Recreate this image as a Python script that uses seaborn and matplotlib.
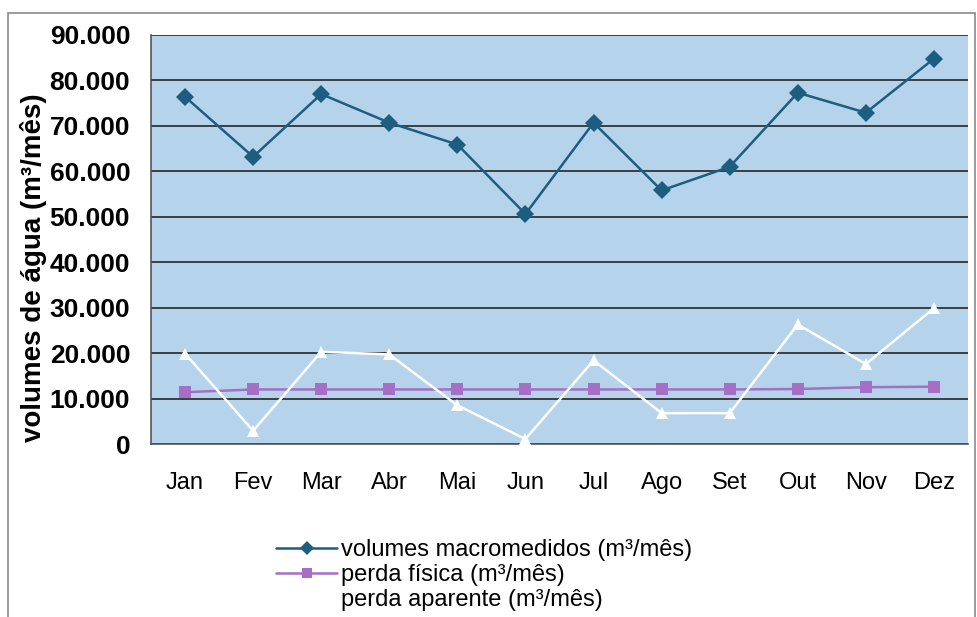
import pandas as pd
import matplotlib
matplotlib.use('Agg')
import matplotlib.pyplot as plt
import matplotlib.ticker as mticker
from matplotlib.patches import Rectangle
import seaborn as sns

# Monthly water volumes (m3/month)
meses = ['Jan', 'Fev', 'Mar', 'Abr', 'Mai', 'Jun', 'Jul', 'Ago', 'Set', 'Out', 'Nov', 'Dez']
volumes_macro = [76400, 63200, 77000, 70700, 65900, 50600, 70700, 55800, 61000, 77300, 72900, 84800]
perda_fisica = [11400, 12000, 12000, 12000, 12000, 12000, 12000, 12000, 12000, 12100, 12500, 12600]
perda_aparente = [19900, 2900, 20300, 19700, 8500, 1100, 18400, 6800, 6800, 26300, 17600, 29900]

nomes = ['volumes macromedidos (m³/mês)', 'perda física (m³/mês)', 'perda aparente (m³/mês)']

df = pd.DataFrame({
    'pos': list(range(len(meses))) * 3,
    'valor': volumes_macro + perda_fisica + perda_aparente,
    'serie': [nomes[0]] * 12 + [nomes[1]] * 12 + [nomes[2]] * 12,
})

sns.set_style('white')
plt.rcParams['font.family'] = ['Liberation Sans', 'DejaVu Sans']
plt.rcParams['text.color'] = 'black'
plt.rcParams['xtick.color'] = 'black'
plt.rcParams['ytick.color'] = 'black'
plt.rcParams['axes.labelcolor'] = 'black'

fig = plt.figure(figsize=(9.78, 6.17), dpi=100)
ax = fig.add_axes([151 / 978, 1 - 444 / 617, (968 - 151) / 978, (444 - 35) / 617])
ax.set_facecolor('#b6d3ec')

# outer chart frame
fig.patches.append(Rectangle((8 / 978, -0.01), (975 - 8) / 978, 1 - 13 / 617 + 0.01,
                             transform=fig.transFigure, fill=False,
                             edgecolor='#8a8a8a', linewidth=1.2))

cores = {nomes[0]: '#1d5e80', nomes[1]: '#a46fc4', nomes[2]: '#ffffff'}
marcadores = {nomes[0]: 'D', nomes[1]: 's', nomes[2]: '^'}
sns.lineplot(data=df, x='pos', y='valor', hue='serie', style='serie',
             palette=cores, markers=marcadores, dashes=False,
             markersize=9, linewidth=1.8, markeredgewidth=0, ax=ax, zorder=3)

ax.set_xlim(-0.5, 11.5)
ax.set_ylim(0, 90000)
ax.yaxis.set_major_locator(mticker.MultipleLocator(10000))
ax.yaxis.set_major_formatter(mticker.FuncFormatter(
    lambda v, p: f'{int(v):,}'.replace(',', '.')))
ax.grid(axis='y', color='#333333', linewidth=1.3)
ax.set_axisbelow(True)

ax.set_xticks(range(12))
ax.set_xticklabels(meses)
ax.set_xticks([i - 0.5 for i in range(13)], minor=True)
ax.tick_params(axis='x', which='major', length=0, pad=20, labelsize=17)
ax.tick_params(axis='x', which='minor', length=7, color='#555555', width=1.2)
ax.tick_params(axis='y', length=7, color='#555555', width=1.2, labelsize=19, pad=8)
for lbl in ax.get_yticklabels():
    lbl.set_fontweight('bold')

for s in ['top', 'right']:
    ax.spines[s].set_visible(False)
for s in ['left', 'bottom']:
    ax.spines[s].set_color('#555555')
    ax.spines[s].set_linewidth(1.2)

ax.set_xlabel('')
ax.set_ylabel('volumes de água (m³/mês)', fontsize=20, fontweight='bold')
ax.yaxis.set_label_coords(-0.127, 0.43)

leg = ax.legend(loc='upper left', bbox_to_anchor=(276 / 978, 1 - 539 / 617),
                bbox_transform=fig.transFigure, frameon=False, fontsize=17,
                handlelength=2.6, handletextpad=0.15, labelspacing=0.12,
                borderaxespad=0, borderpad=0, markerscale=0.8)

fig.savefig('out.png', dpi=100)
